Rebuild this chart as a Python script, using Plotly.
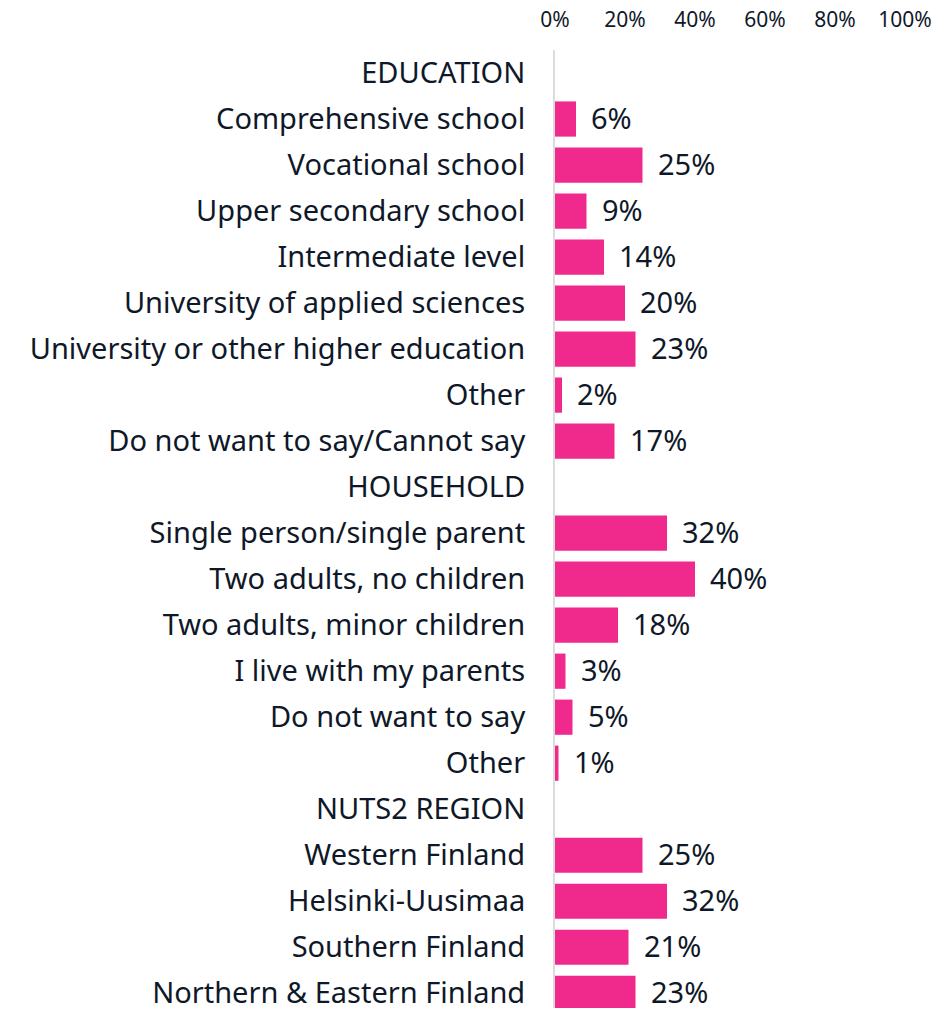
import plotly.graph_objects as go

# Survey respondents by background group (share of respondents, %)
categories = [
    "EDUCATION",
    "Comprehensive school",
    "Vocational school",
    "Upper secondary school",
    "Intermediate level",
    "University of applied sciences",
    "University or other higher education",
    "Other",
    "Do not want to say/Cannot say",
    "HOUSEHOLD",
    "Single person/single parent",
    "Two adults, no children",
    "Two adults, minor children",
    "I live with my parents",
    "Do not want to say",
    "Other",
    "NUTS2 REGION",
    "Western Finland",
    "Helsinki-Uusimaa",
    "Southern Finland",
    "Northern & Eastern Finland",
]
values = [None, 6, 25, 9, 14, 20, 23, 2, 17,
          None, 32, 40, 18, 3, 5, 1,
          None, 25, 32, 21, 23]
x_ticks = [0, 20, 40, 60, 80, 100]

BAR = "#ef2a8c"
INK = "#0f1829"
FONT = "Noto Sans"

rows = list(range(len(categories)))
bar_x = [v if v is not None else 0 for v in values]

fig = go.Figure()
fig.add_trace(go.Bar(
    x=bar_x, y=rows, orientation="h",
    marker=dict(color=BAR, line=dict(width=0)),
    width=0.765, hoverinfo="skip",
))

for i, v in enumerate(values):
    if v is None:
        continue
    fig.add_annotation(
        x=v, y=i, xref="x", yref="y", text=f"{v}%",
        showarrow=False, xanchor="left", yanchor="middle",
        xshift=13, yshift=2, font=dict(family=FONT, size=29, color=INK),
    )

fig.update_layout(
    width=943, height=1011,
    margin=dict(l=555, r=38, t=50, b=0),
    paper_bgcolor="white", plot_bgcolor="white",
    showlegend=False,
    font=dict(family=FONT, color=INK),
    xaxis=dict(
        side="top", range=[0, 100], tickvals=x_ticks,
        ticktext=[f"{t}%" for t in x_ticks],
        showgrid=False, zeroline=False, showline=False, ticks="",
        tickfont=dict(family=FONT, size=21, color=INK),
        ticklabelstandoff=18, fixedrange=True,
    ),
    yaxis=dict(
        range=[20.32, -0.5], tickvals=rows, ticktext=categories,
        showgrid=False, zeroline=False, ticks="",
        showline=True, linecolor="#dcdcdc", linewidth=2,
        tickfont=dict(family=FONT, size=29, color=INK),
        ticklabelstandoff=22, ticklabeloverflow="allow", fixedrange=True,
    ),
)

fig.write_html("out.html")
